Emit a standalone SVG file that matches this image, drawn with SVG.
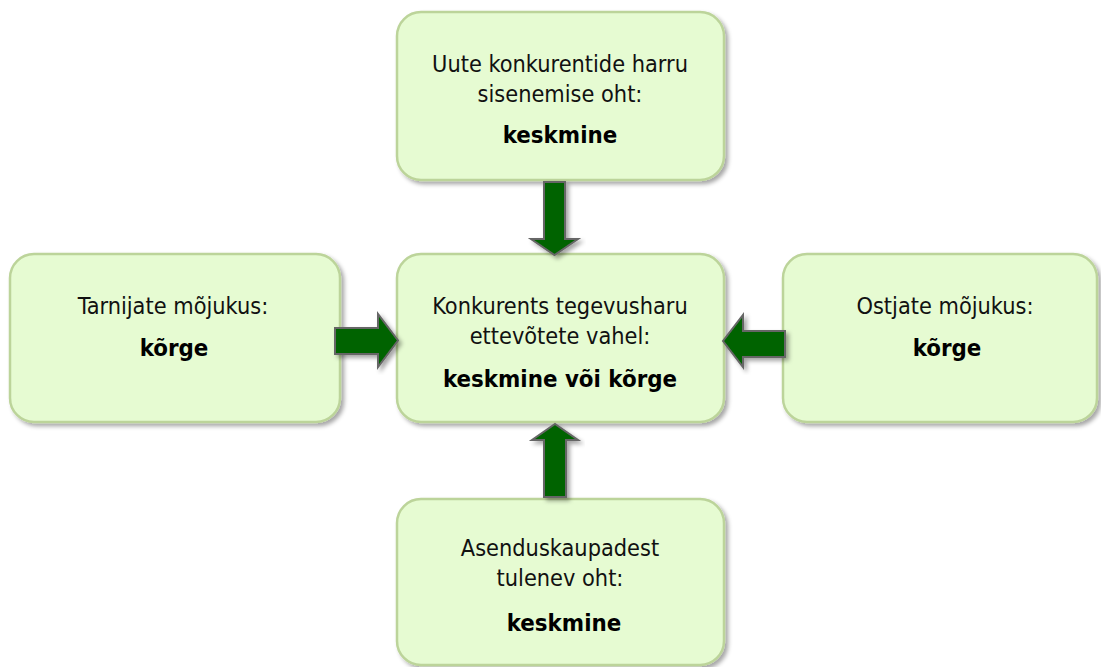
<svg xmlns="http://www.w3.org/2000/svg" width="1101" height="667" viewBox="0 0 1101 667">
<defs>
<filter id="sh" x="-10%" y="-10%" width="125%" height="125%">
<feDropShadow dx="3" dy="3" stdDeviation="2" flood-color="#000" flood-opacity="0.35"/>
</filter>
<style>
.box{fill:#E6FBD2;stroke:#BCD49A;stroke-width:2.5;filter:url(#sh)}
.arr{fill:#006400;stroke:#666;stroke-width:2;stroke-linejoin:miter;filter:url(#sh)}
text{font-family:"DejaVu Sans Condensed","DejaVu Sans",sans-serif;font-size:23.3px;fill:#111;text-anchor:middle}
.b{font-weight:bold;font-size:23.8px;fill:#000}
</style>
</defs>
<rect width="1101" height="667" fill="#fff"/>
<g id="node-top">
<rect class="box" x="397" y="12" width="327" height="168" rx="24"/>
<text x="560" y="72">Uute konkurentide harru</text>
<text x="560" y="102">sisenemise oht:</text>
<text class="b" x="560" y="143">keskmine</text>
</g>
<g id="node-center">
<rect class="box" x="397" y="254" width="327" height="168" rx="24"/>
<text x="560" y="314">Konkurents tegevusharu</text>
<text x="560" y="344">ettevõtete vahel:</text>
<text class="b" x="560" y="387">keskmine või kõrge</text>
</g>
<g id="node-left">
<rect class="box" x="10" y="254" width="330" height="168" rx="24"/>
<text x="173" y="314">Tarnijate mõjukus:</text>
<text class="b" x="174" y="356">kõrge</text>
</g>
<g id="node-right">
<rect class="box" x="783" y="254" width="314" height="168" rx="24"/>
<text x="945" y="314">Ostjate mõjukus:</text>
<text class="b" x="947" y="356">kõrge</text>
</g>
<g id="node-bottom">
<rect class="box" x="397" y="499" width="327" height="166" rx="24"/>
<text x="560" y="556">Asenduskaupadest</text>
<text x="560" y="586">tulenev oht:</text>
<text class="b" x="564" y="631">keskmine</text>
</g>
<g id="connectors">
<polygon class="arr" points="544,182 565,182 565,239 578,239 554.5,255 531,239 544,239"/>
<polygon class="arr" points="544,497 566,497 566,440 578,440 555,424 532,440 544,440"/>
<polygon class="arr" points="335,328 378,328 378,314 398,340.5 378,367 378,354 335,354"/>
<polygon class="arr" points="785,331 743,331 743,315 723,341 743,367 743,357 785,357"/>
</g>
</svg>
